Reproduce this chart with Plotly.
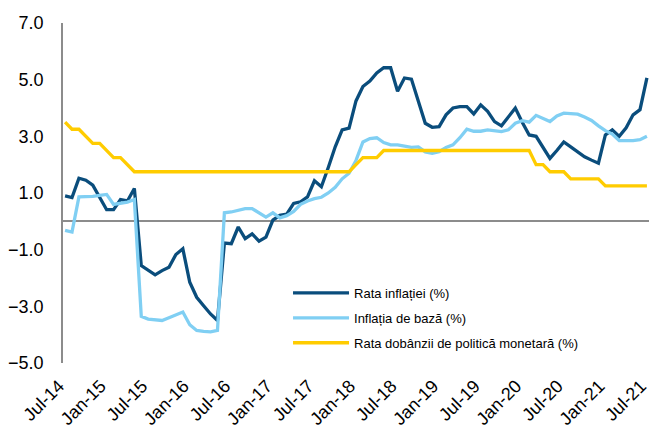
import plotly.graph_objects as go

months = ["Jul-14","Aug-14","Sep-14","Oct-14","Nov-14","Dec-14",
          "Jan-15","Feb-15","Mar-15","Apr-15","May-15","Jun-15","Jul-15","Aug-15","Sep-15","Oct-15","Nov-15","Dec-15",
          "Jan-16","Feb-16","Mar-16","Apr-16","May-16","Jun-16","Jul-16","Aug-16","Sep-16","Oct-16","Nov-16","Dec-16",
          "Jan-17","Feb-17","Mar-17","Apr-17","May-17","Jun-17","Jul-17","Aug-17","Sep-17","Oct-17","Nov-17","Dec-17",
          "Jan-18","Feb-18","Mar-18","Apr-18","May-18","Jun-18","Jul-18","Aug-18","Sep-18","Oct-18","Nov-18","Dec-18",
          "Jan-19","Feb-19","Mar-19","Apr-19","May-19","Jun-19","Jul-19","Aug-19","Sep-19","Oct-19","Nov-19","Dec-19",
          "Jan-20","Feb-20","Mar-20","Apr-20","May-20","Jun-20","Jul-20","Aug-20","Sep-20","Oct-20","Nov-20","Dec-20",
          "Jan-21","Feb-21","Mar-21","Apr-21","May-21","Jun-21","Jul-21"]

inflation = [0.90, 0.84, 1.52, 1.45, 1.28, 0.82,
             0.41, 0.41, 0.77, 0.72, 1.16, -1.56, -1.72, -1.89, -1.74, -1.62, -1.17, -0.97,
             -2.15, -2.68, -2.98, -3.27, -3.50, -0.77, -0.79, -0.20, -0.61, -0.44, -0.70, -0.56,
             0.04, 0.21, 0.25, 0.63, 0.69, 0.86, 1.43, 1.22, 1.90, 2.63, 3.23, 3.29,
             4.25, 4.76, 4.95, 5.24, 5.42, 5.42, 4.59, 5.06, 5.02, 4.23, 3.46, 3.32,
             3.34, 3.76, 4.00, 4.05, 4.05, 3.79, 4.11, 3.88, 3.52, 3.37, 3.70, 4.00,
             3.50, 3.05, 3.00, 2.63, 2.22, 2.50, 2.80, 2.63, 2.46, 2.28, 2.16, 2.05,
             3.05, 3.23, 3.00, 3.30, 3.76, 3.94, 5.06]

core = [-0.32, -0.38, 0.86, 0.87, 0.88, 0.92,
        0.95, 0.60, 0.64, 0.68, 0.77, -3.35, -3.45, -3.48, -3.50, -3.40, -3.30, -3.20,
        -3.65, -3.85, -3.88, -3.90, -3.85, 0.30, 0.33, 0.38, 0.45, 0.45, 0.30, 0.15,
        0.30, 0.12, 0.20, 0.35, 0.60, 0.72, 0.80, 0.85, 1.00, 1.20, 1.50, 1.70,
        2.15, 2.80, 2.92, 2.95, 2.78, 2.70, 2.70, 2.66, 2.61, 2.63, 2.45, 2.40,
        2.46, 2.61, 2.70, 2.95, 3.25, 3.18, 3.18, 3.23, 3.20, 3.17, 3.23, 3.46,
        3.55, 3.50, 3.74, 3.64, 3.52, 3.72, 3.82, 3.80, 3.78, 3.68, 3.56, 3.37,
        3.20, 3.08, 2.85, 2.85, 2.85, 2.88, 3.00]

policy_rate = [3.50, 3.25, 3.25, 3.00, 2.75, 2.75,
               2.50, 2.25, 2.25, 2.00, 1.75, 1.75, 1.75, 1.75, 1.75, 1.75, 1.75, 1.75,
               1.75, 1.75, 1.75, 1.75, 1.75, 1.75, 1.75, 1.75, 1.75, 1.75, 1.75, 1.75,
               1.75, 1.75, 1.75, 1.75, 1.75, 1.75, 1.75, 1.75, 1.75, 1.75, 1.75, 1.75,
               2.00, 2.25, 2.25, 2.25, 2.50, 2.50, 2.50, 2.50, 2.50, 2.50, 2.50, 2.50,
               2.50, 2.50, 2.50, 2.50, 2.50, 2.50, 2.50, 2.50, 2.50, 2.50, 2.50, 2.50,
               2.50, 2.50, 2.00, 2.00, 1.75, 1.75, 1.75, 1.50, 1.50, 1.50, 1.50, 1.50,
               1.25, 1.25, 1.25, 1.25, 1.25, 1.25, 1.25]

series_names = ["Rata inflației (%)", "Inflația de bază (%)", "Rata dobânzii de politică monetară (%)"]
series_colors = ["#0A4D7C", "#80CFF3", "#FFCC00"]

y_tickvals = [-5, -3, -1, 1, 3, 5, 7]
x_idx = list(range(len(months)))
x_tickvals = x_idx[::6]
x_ticktext = months[::6]

FONT = "Liberation Sans, Arial, sans-serif"

fig = go.Figure()
for i, (name, vals, col) in enumerate(zip(series_names, [inflation, core, policy_rate], series_colors)):
    fig.add_trace(go.Scatter(x=x_idx, y=vals, mode="lines", name=name,
                             line=dict(color=col, width=3.3), legendgroup=f"g{i}"))

fig.update_layout(
    width=650, height=432,
    margin=dict(l=63, r=1, t=23, b=69),
    paper_bgcolor="white", plot_bgcolor="white",
    font=dict(family=FONT, color="#000000"),
    showlegend=True,
    legend=dict(x=0.384, y=0.25, xanchor="left", yanchor="top",
                font=dict(size=13, family=FONT, color="#000000"),
                bgcolor="rgba(0,0,0,0)", tracegroupgap=5, itemwidth=56),
    xaxis=dict(range=[-0.3, 84.3], tickmode="array", tickvals=x_tickvals, ticktext=x_ticktext,
               tickangle=-45, tickfont=dict(size=18, family=FONT), showgrid=False,
               zeroline=False, showline=False, ticks="", automargin=False,
               ticklabelstandoff=8, ticklabelshift=-6, ticklabeloverflow="allow"),
    yaxis=dict(range=[-5, 7], tickmode="array", tickvals=y_tickvals, tickformat=".1f",
               tickfont=dict(size=18, family=FONT), showgrid=False,
               showline=True, linecolor="#8C8C8C", linewidth=1.5,
               zeroline=True, zerolinecolor="#8C8C8C", zerolinewidth=1.5,
               ticks="", ticklabelstandoff=14, automargin=False),
)

fig.write_html("out.html",
               config={"displayModeBar": False},
               post_script="document.body.style.margin='0';document.body.style.overflow='hidden';")
